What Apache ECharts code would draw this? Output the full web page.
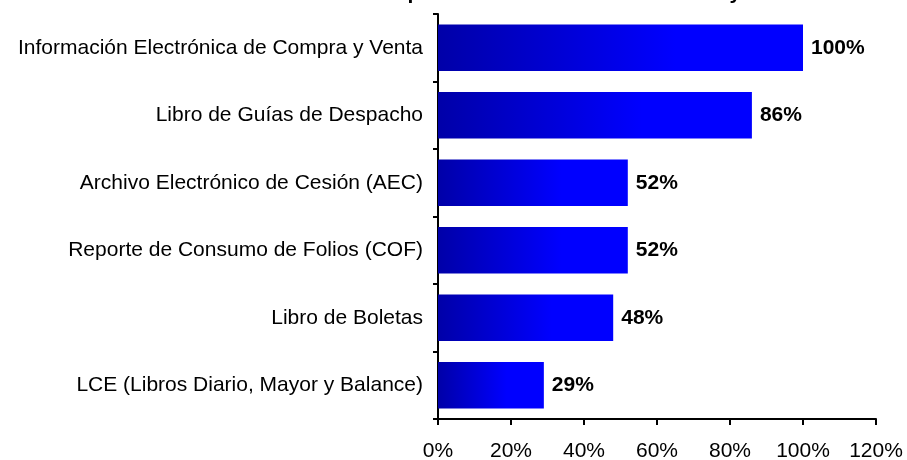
<!DOCTYPE html>
<html>
<head>
<meta charset="utf-8">
<script src="https://cdn.jsdelivr.net/npm/echarts@6/dist/echarts.min.js"></script>
<style>
  html, body { margin: 0; padding: 0; background: #fff; }
  #chart { width: 907px; height: 460px; }
</style>
</head>
<body>
<div id="chart"></div>
<script>
const titleText = 'Informes Electrónicos que Presentan al SII los Contribuyentes'
const categories = [
  'Información Electrónica de Compra y Venta',
  'Libro de Guías de Despacho',
  'Archivo Electrónico de Cesión (AEC)',
  'Reporte de Consumo de Folios (COF)',
  'Libro de Boletas',
  'LCE (Libros Diario, Mayor y Balance)'
]
const values = [100, 86, 52, 52, 48, 29]
const xTicks = [0, 20, 40, 60, 80, 100, 120]

const font = 'Arial, "Liberation Sans", sans-serif'

const chart = echarts.init(document.getElementById('chart'))
chart.setOption({
  animation: false,
  title: {
    text: titleText,
    left: 480,
    textAlign: 'center',
    top: -22,
    textStyle: { fontFamily: font, fontSize: 21, fontWeight: 'bold', color: '#000' }
  },
  grid: { left: 438, right: 31, top: 14, bottom: 41, outerBoundsMode: 'none' },
  xAxis: {
    type: 'value',
    min: xTicks[0],
    max: xTicks[xTicks.length - 1],
    interval: 20,
    splitLine: { show: false },
    axisLine: { show: true, lineStyle: { color: '#000', width: 2 } },
    axisTick: { show: true, length: 6, lineStyle: { color: '#000', width: 2 } },
    axisLabel: {
      formatter: '{value}%',
      color: '#000',
      fontFamily: font,
      fontSize: 21,
      margin: 22
    }
  },
  yAxis: {
    type: 'category',
    inverse: true,
    data: categories,
    axisLine: { show: true, lineStyle: { color: '#000', width: 2 } },
    axisTick: { show: true, length: 5, lineStyle: { color: '#000', width: 2 } },
    axisLabel: { color: '#000', fontFamily: font, fontSize: 21, margin: 15 }
  },
  series: [{
    type: 'bar',
    data: values,
    barWidth: '69%',
    itemStyle: {
      color: new echarts.graphic.LinearGradient(0, 0, 1, 0, [
        { offset: 0, color: '#0000a8' },
        { offset: 0.65, color: '#0000ff' },
        { offset: 1, color: '#0000ff' }
      ])
    },
    label: {
      show: true,
      position: 'right',
      distance: 8,
      formatter: '{c}%',
      color: '#000',
      fontFamily: font,
      fontSize: 21,
      fontWeight: 'bold'
    }
  }]
})
</script>
</body>
</html>
